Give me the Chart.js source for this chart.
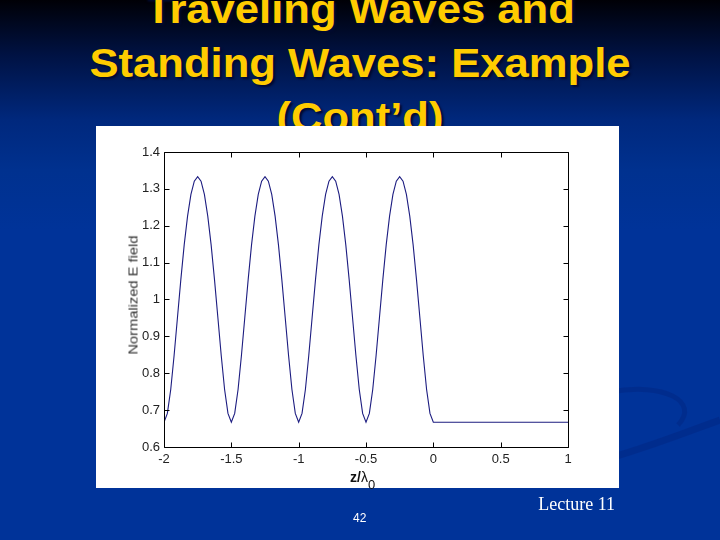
<!DOCTYPE html>
<html>
<head>
<meta charset="utf-8">
<script src="https://cdn.jsdelivr.net/npm/chart.js@4.4.0/dist/chart.umd.min.js"></script>
<style>
  html, body { margin: 0; padding: 0; }
  body {
    width: 720px; height: 540px; position: relative; overflow: hidden;
    background: linear-gradient(to bottom, #000006 0px, #001243 55px, #00287d 120px, #00318f 170px, #003399 230px, #003399 100%);
    font-family: "Liberation Sans", Arial, sans-serif;
  }
  #title {
    position: absolute; left: 0; top: -18px; width: 720px;
    text-align: center; color: #ffcc00; font-weight: bold; font-size: 40px; line-height: 54px;
    text-shadow: 2px 2px 2px #000a30;
    transform: scaleX(1.09); transform-origin: 360px 0;
  }
  #box { position: absolute; left: 96px; top: 126px; width: 523px; height: 362px; background: #fff; }
  #ytitle {
    position: absolute; left: 133px; top: 295px; font-size: 13px; color: #333; white-space: nowrap;
    transform: translate(-50%, -50%) rotate(-90deg) scaleX(1.13);
  }
  #xtitle { position: absolute; left: 350px; top: 469px; font-size: 14px; line-height: 16px; color: #111; white-space: nowrap; }
  #xtitle sub { font-size: 13px; vertical-align: -7px; }
  #lecture { position: absolute; right: 105px; top: 494px; font-family: "Liberation Serif", "Times New Roman", serif; font-size: 18px; color: #fff; }
  #page { position: absolute; left: 353px; top: 511px; font-size: 12px; color: #fff; }
  svg { position: absolute; left: 0; top: 0; }
</style>
</head>
<body>
<svg width="720" height="540">
  <path d="M 610 392 C 665 382, 700 402, 678 425" stroke="rgba(0,30,115,0.3)" stroke-width="5" fill="none"/>
  <path d="M 610 458 C 655 445, 692 430, 720 420" stroke="rgba(0,30,115,0.3)" stroke-width="7" fill="none"/>
</svg>
<div id="title">Traveling Waves and<br>Standing Waves: Example<br>(Cont’d)</div>
<div id="box"><canvas id="chart" width="523" height="362"></canvas></div>
<div id="ytitle">Normalized E field</div>
<div id="xtitle"><b>z/</b>λ<sub>0</sub></div>
<div id="lecture">Lecture 11</div>
<div id="page">42</div>
<script>
// position along the line, in wavelengths
const zPos = [
  -2.000, -1.975, -1.950, -1.925, -1.900, -1.875, -1.850, -1.825, -1.800, -1.775,
  -1.750, -1.725, -1.700, -1.675, -1.650, -1.625, -1.600, -1.575, -1.550, -1.525,
  -1.500, -1.475, -1.450, -1.425, -1.400, -1.375, -1.350, -1.325, -1.300, -1.275,
  -1.250, -1.225, -1.200, -1.175, -1.150, -1.125, -1.100, -1.075, -1.050, -1.025,
  -1.000, -0.975, -0.950, -0.925, -0.900, -0.875, -0.850, -0.825, -0.800, -0.775,
  -0.750, -0.725, -0.700, -0.675, -0.650, -0.625, -0.600, -0.575, -0.550, -0.525,
  -0.500, -0.475, -0.450, -0.425, -0.400, -0.375, -0.350, -0.325, -0.300, -0.275,
  -0.250, -0.225, -0.200, -0.175, -0.150, -0.125, -0.100, -0.075, -0.050, -0.025,
  0.000, 1.000
];
// normalized |E|
const eField = [
  0.667, 0.691, 0.756, 0.848, 0.951, 1.054, 1.148, 1.226, 1.285, 1.321,
  1.333, 1.321, 1.285, 1.226, 1.148, 1.054, 0.951, 0.848, 0.756, 0.691,
  0.667, 0.691, 0.756, 0.848, 0.951, 1.054, 1.148, 1.226, 1.285, 1.321,
  1.333, 1.321, 1.285, 1.226, 1.148, 1.054, 0.951, 0.848, 0.756, 0.691,
  0.667, 0.691, 0.756, 0.848, 0.951, 1.054, 1.148, 1.226, 1.285, 1.321,
  1.333, 1.321, 1.285, 1.226, 1.148, 1.054, 0.951, 0.848, 0.756, 0.691,
  0.667, 0.691, 0.756, 0.848, 0.951, 1.054, 1.148, 1.226, 1.285, 1.321,
  1.333, 1.321, 1.285, 1.226, 1.148, 1.054, 0.951, 0.848, 0.756, 0.691,
  0.667, 0.667
];
const xTicks = [-2, -1.5, -1, -0.5, 0, 0.5, 1];
const yTicks = [0.6, 0.7, 0.8, 0.9, 1, 1.1, 1.2, 1.3, 1.4];

const tickFont = { family: "Liberation Sans", size: 13 };

// matlab style frame with inward ticks on all four sides
const matlabBox = {
  id: 'matlabBox',
  afterDatasetsDraw(chart) {
    const { ctx, chartArea: { left, top, right, bottom }, scales: { x, y } } = chart;
    const l = Math.round(left) + 0.5, r = Math.round(right) + 0.5;
    const t = Math.round(top) + 0.5, b = Math.round(bottom) + 0.5;
    ctx.save();
    ctx.strokeStyle = '#000';
    ctx.lineWidth = 1;
    ctx.beginPath();
    ctx.rect(l, t, r - l, b - t);
    x.ticks.forEach((tk, i) => {
      const px = Math.round(x.getPixelForTick(i)) + 0.5;
      ctx.moveTo(px, b); ctx.lineTo(px, b - 5);
      ctx.moveTo(px, t); ctx.lineTo(px, t + 5);
    });
    y.ticks.forEach((tk, i) => {
      const py = Math.round(y.getPixelForTick(i)) + 0.5;
      ctx.moveTo(l, py); ctx.lineTo(l + 5, py);
      ctx.moveTo(r, py); ctx.lineTo(r - 5, py);
    });
    ctx.stroke();
    ctx.restore();
  }
};

new Chart(document.getElementById('chart'), {
  type: 'line',
  data: {
    datasets: [{
      data: zPos.map((z, i) => ({ x: z, y: eField[i] })),
      borderColor: '#1c1c80',
      borderWidth: 1.1,
      pointRadius: 0,
      tension: 0,
      fill: false
    }]
  },
  options: {
    responsive: false,
    animation: false,
    devicePixelRatio: 1,
    layout: { padding: { left: 0, top: 26, right: 51, bottom: 0 } },
    plugins: { legend: { display: false }, tooltip: { enabled: false } },
    scales: {
      x: {
        type: 'linear', min: -2, max: 1,
        afterBuildTicks: (s) => { s.ticks = xTicks.map(v => ({ value: v })); },
        afterFit: (s) => { s.height = 41; },
        ticks: { font: tickFont, color: '#222', padding: 5, maxRotation: 0, autoSkip: false, callback: (v) => String(v) },
        grid: { display: false, drawTicks: false },
        border: { display: false }
      },
      y: {
        type: 'linear', min: 0.6, max: 1.4,
        afterBuildTicks: (s) => { s.ticks = yTicks.map(v => ({ value: v })); },
        afterFit: (s) => { s.width = 68; },
        ticks: { font: tickFont, color: '#222', padding: 4, autoSkip: false, callback: (v) => String(v) },
        grid: { display: false, drawTicks: false },
        border: { display: false }
      }
    }
  },
  plugins: [matlabBox]
});
</script>
</body>
</html>
